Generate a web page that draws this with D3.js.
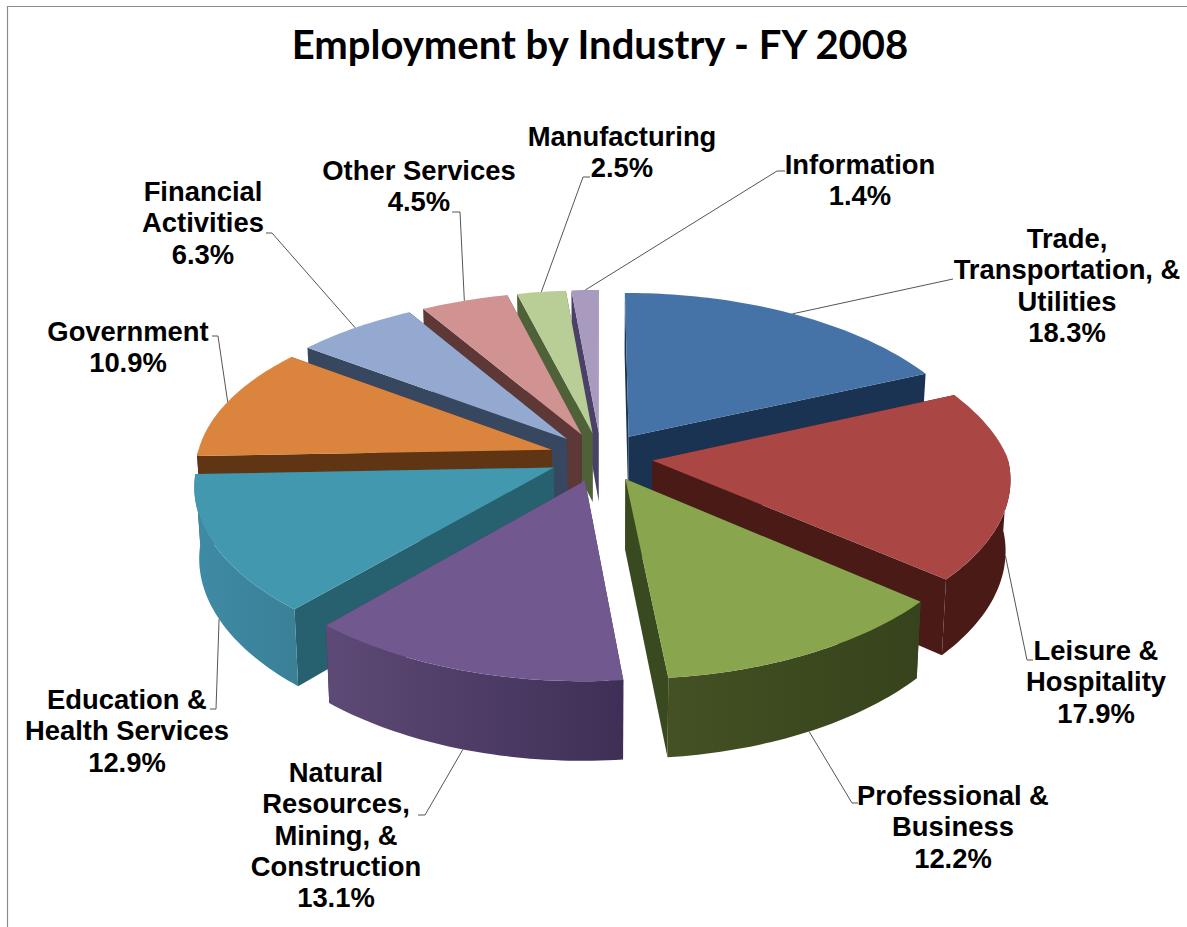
<!DOCTYPE html>
<html><head><meta charset="utf-8">
<script src="https://d3js.org/d3.v7.min.js"></script>
<style>html,body{margin:0;padding:0;background:#fff}svg{display:block}</style>
</head><body><svg id="c" width="1187" height="927"></svg>
<script>
const chartTitle = "Employment by Industry - FY 2008";
const categories = ["Trade, Transportation, & Utilities","Leisure & Hospitality","Professional & Business","Natural Resources, Mining, & Construction","Education & Health Services","Government","Financial Activities","Other Services","Manufacturing","Information"];
const shares = [18.3,17.9,12.2,13.1,12.9,10.9,6.3,4.5,2.5,1.4];
const labelLines = [["Trade,","Transportation, &","Utilities"],["Leisure &","Hospitality"],["Professional &","Business"],["Natural","Resources,","Mining, &","Construction"],["Education &","Health Services"],["Government"],["Financial","Activities"],["Other Services"],["Manufacturing"],["Information"]];

// styles
const topColors  = ["#4573a7","#aa4643","#89a54e","#71588f","#4198af","#db843d","#93a9cf","#d19392","#b9cd96","#a99bbd"];
const cutColors  = ["#1a3353","#4a1a17","#3a4a20","#3f2f56","#27616f","#5f3513","#36475f","#5d3836","#4f6139","#4a4068"];
const wallLeft   = ["#1a3353","#4a1a17","#435123","#5d4a76","#3f8aa5","#5f3513","#36475f","#5d3836","#4f6139","#4a4068"];
const wallRight  = ["#1a3353","#4a1a17","#36431c","#3f2f56","#3a8097","#5f3513","#36475f","#5d3836","#4f6139","#4a4068"];

// layout: label centre x, first baseline y, leader elbow and stub end
const labelLayout = [
 {x:1067,y:248,elbow:[953,279],stub:[953,279]},
 {x:1096,y:660,elbow:[1027,660],stub:[1033,660]},
 {x:953,y:805,elbow:[852,803],stub:[858,803]},
 {x:336,y:782,elbow:[425,815],stub:[418,815]},
 {x:127,y:709,elbow:[216,709],stub:[210,709]},
 {x:128,y:341,elbow:[218,336],stub:[212,336]},
 {x:203,y:201,elbow:[272,233],stub:[266,233]},
 {x:419,y:180,elbow:[460,212],stub:[452,212]},
 {x:622,y:146,elbow:[583,177],stub:[590,177]},
 {x:860,y:174,elbow:[777,171],stub:[785,171]}
];
const view = {cx:601, cy:457, rx:355, ry:167.6, qxFront:0.1, qxBackRight:0.16, qxBackLeft:0.115, qy:0.1305, depth:70, explode:0.146};
const lineGap = 31.3;

const svg = d3.select("#c");
const defs = svg.append("defs");
const colorTop = d3.scaleOrdinal(categories, topColors);
const colorCut = d3.scaleOrdinal(categories, cutColors);

// chart frame
svg.append("path").attr("d","M7.5,927V6.5H1187").attr("fill","none").attr("stroke","#8c8c8c").attr("stroke-width",1.2);

svg.append("text").attr("x",600).attr("y",59).attr("text-anchor","middle")
  .attr("font-family","Lato").attr("font-weight",700).attr("font-size",40).attr("fill","#000").text(chartTitle);

const project = (X,Y,Z) => {
  const qx = Y<0 ? (X<0 ? view.qxBackLeft : view.qxBackRight) : view.qxFront;
  const sx = view.rx*X/(1-qx*Y)*(1-0.012*Z);
  const sy = view.ry*Y/(1-view.qy*Y) + Z*view.depth*(1+0.12*Y);
  return [view.cx+sx, view.cy+sy];
};
const arcs = d3.pie().sort(null).value(d=>d)(shares).map((a,i)=>{
  const mid=(a.startAngle+a.endAngle)/2;
  return {...a,i,mid,ox:Math.sin(mid)*view.explode,oy:-Math.cos(mid)*view.explode,name:categories[i]};
});
const rim = (a,t,Z,r=1) => project(a.ox+r*Math.sin(t), a.oy-r*Math.cos(t), Z);
const apex = (a,Z) => project(a.ox,a.oy,Z);
const sample = (t0,t1) => { const n=Math.max(2,Math.ceil((t1-t0)/0.02)); return d3.range(n+1).map(k=>t0+(t1-t0)*k/n); };
const line = d3.line();

arcs.forEach(a=>{
  const g=defs.append("linearGradient").attr("id","w"+a.i);
  g.append("stop").attr("offset","0%").attr("stop-color",wallLeft[a.i]);
  g.append("stop").attr("offset","100%").attr("stop-color",wallRight[a.i]);
});

const meanY = a => a.oy - Math.cos(a.mid);
const slices = svg.append("g").selectAll("g").data([...arcs].sort((p,q)=>meanY(p)-meanY(q))).join("g");
slices.each(function(a){
  const g=d3.select(this);
  const edges=[a.startAngle,a.endAngle].sort((p,q)=>(-Math.cos(p))-(-Math.cos(q)));
  edges.forEach(t=>{
    g.append("path").attr("fill",colorCut(a.name))
     .attr("d",line([apex(a,0),rim(a,t,0),rim(a,t,1),apex(a,1)])+"Z");
  });
  const t0=Math.max(a.startAngle,Math.PI/2), t1=Math.min(a.endAngle,Math.PI*1.5);
  if(t1>t0){
    const ts=sample(t0,t1);
    g.append("path").attr("fill",`url(#w${a.i})`)
     .attr("d",line([...ts.map(t=>rim(a,t,0)),...ts.slice().reverse().map(t=>rim(a,t,1))])+"Z");
  }
  g.append("path").attr("fill",colorTop(a.name))
   .attr("d",line([apex(a,0),...sample(a.startAngle,a.endAngle).map(t=>rim(a,t,0))])+"Z");
});

// leaders and labels
const fmt = d3.format(".1f");
const leaders = svg.append("g");
arcs.forEach(a=>{
  const L=labelLayout[a.i];
  const front=Math.cos(a.mid)<0;
  leaders.append("path").attr("fill","none").attr("stroke","#555").attr("stroke-width",1)
    .attr("d",line([rim(a,a.mid,front?1:0),L.elbow,L.stub]));
});
const labels = svg.append("g").attr("font-family","'Liberation Sans'").attr("font-weight",700).attr("font-size",27.4).attr("fill","#000").attr("text-anchor","middle");
arcs.forEach(a=>{
  const L=labelLayout[a.i];
  [...labelLines[a.i],fmt(shares[a.i])+"%"].forEach((s,k)=>{
    labels.append("text").attr("x",L.x).attr("y",L.y+k*lineGap).text(s);
  });
});
</script></body></html>
